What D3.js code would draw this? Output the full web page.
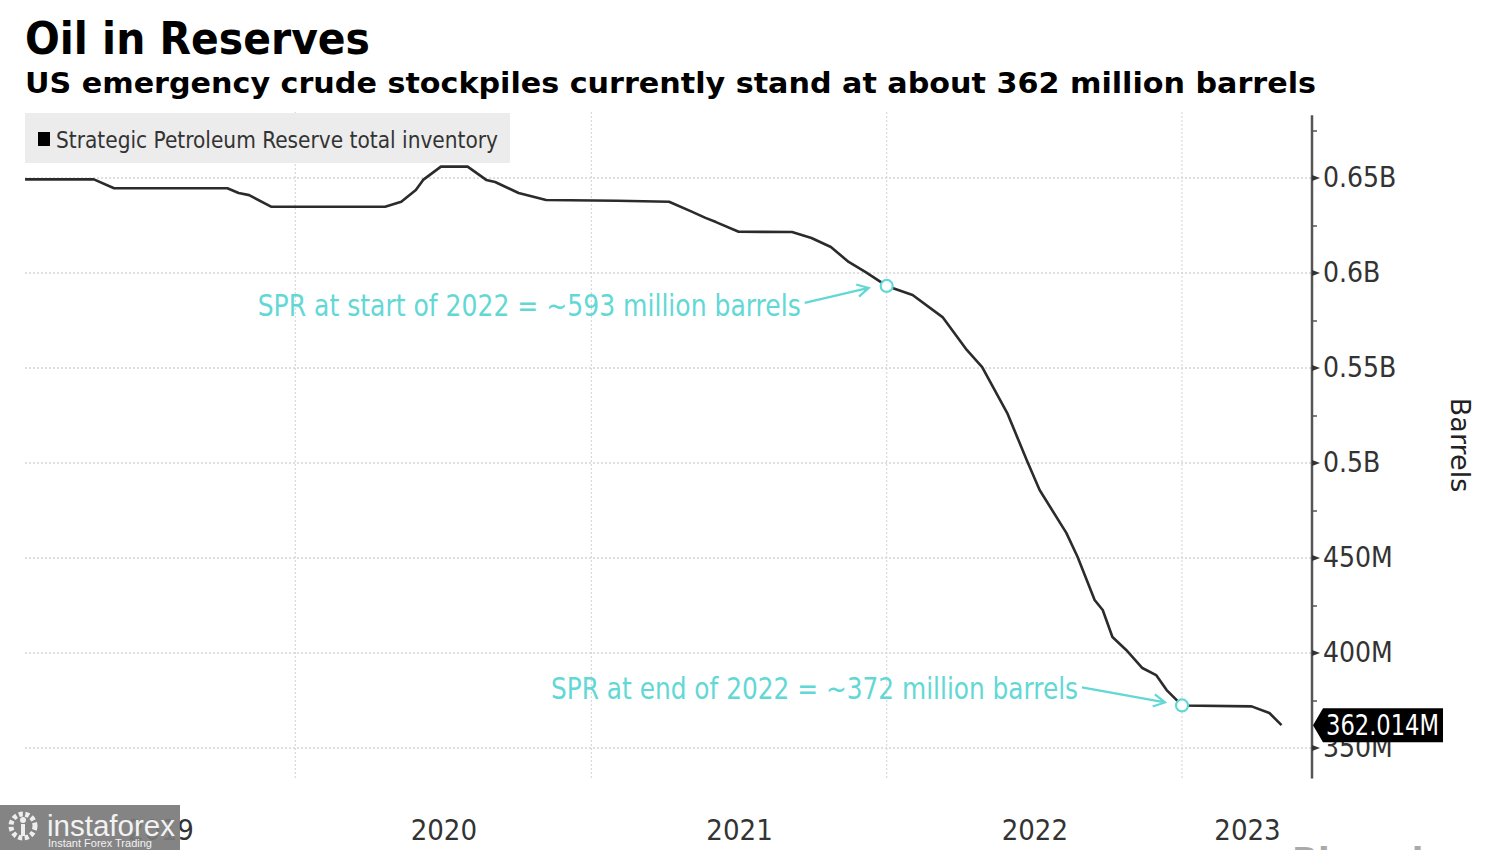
<!DOCTYPE html>
<html><head><meta charset="utf-8">
<script src="https://cdn.jsdelivr.net/npm/d3@7"></script>
<style>body{margin:0;background:#fff}svg{display:block}</style>
</head><body><svg id="c" width="1500" height="850"></svg>
<script>
// ---- data ----
const dates = ["2019-02-01","2019-04-27","2019-05-22","2019-10-09","2019-10-23","2019-11-05","2019-12-02",
"2020-04-21","2020-05-11","2020-05-29","2020-06-07","2020-06-29","2020-08-01","2020-08-24","2020-09-04","2020-10-03","2020-11-06",
"2021-02-02","2021-04-07","2021-05-05","2021-05-22","2021-06-04","2021-07-02","2021-09-06","2021-09-30","2021-10-24","2021-11-15","2021-12-06",
"2022-01-01","2022-02-02","2022-03-11","2022-04-10","2022-04-29","2022-05-30","2022-06-23","2022-07-09","2022-08-11","2022-08-25","2022-09-15","2022-09-25","2022-10-07","2022-10-24","2022-11-13","2022-11-30","2022-12-13",
"2023-01-01","2023-03-28","2023-04-19","2023-05-04"];
const values = [649.3,649.3,644.6,644.6,642.1,641.0,634.9,
634.9,637.5,643.7,649.0,656.0,656.0,649.0,647.9,642.1,638.4,
638.0,637.5,632.3,629.0,626.8,621.7,621.6,618.4,613.7,605.8,600.5,
593.2,588.4,576.8,559.5,550.5,526.3,501.6,485.8,463.2,450.5,427.9,422.6,408.4,401.6,392.1,388.4,380.5,
372.4,371.9,368.4,362.0];
const yTicks = [350,400,450,500,550,600,650];
const yTickLabels = ["350M","400M","450M","0.5B","0.55B","0.6B","0.65B"];
const yearLabels = ["2019","2020","2021","2022","2023"];
const annDates = ["2022-01-01","2023-01-01"];
const annValues = [593.2,372.4];
const annTexts = ["SPR at start of 2022 = ~593 million barrels","SPR at end of 2022 = ~372 million barrels"];
const lastLabel = "362.014M";
const title = "Oil in Reserves";
const subtitle = "US emergency crude stockpiles currently stand at about 362 million barrels";
const legendLabel = "Strategic Petroleum Reserve total inventory";
const yAxisTitle = "Barrels";

// ---- setup ----
const svg = d3.select("#c");
const parse = d3.utcParse("%Y-%m-%d");
const data = dates.map((d,i)=>({date:parse(d), value:values[i]}));
const axisX = 1312;
const x = d3.scaleUtc().domain([Date.UTC(2019,0,1), Date.UTC(2023,0,1)]).range([0, 1182]);
const y = d3.scaleLinear().domain([350,650]).range([748,178]);
const plotLeft = x(data[0].date);
const cond = "'Liberation Sans Narrow','DejaVu Sans Condensed','Liberation Sans',sans-serif";
const cyan = "#62d8d6";

// titles
svg.append("text").attr("x",25).attr("y",54).attr("font-family","'DejaVu Sans',Verdana,sans-serif")
  .attr("font-weight","bold").attr("font-size",45).attr("fill","#000")
  .attr("textLength",345).attr("lengthAdjust","spacingAndGlyphs").text(title);
svg.append("text").attr("x",25).attr("y",93).attr("font-family","'DejaVu Sans',Verdana,sans-serif")
  .attr("font-weight","bold").attr("font-size",28).attr("fill","#000")
  .attr("textLength",1291).attr("lengthAdjust","spacingAndGlyphs").text(subtitle);

// gridlines
const years = [2020,2021,2022,2023].map(yy=>new Date(Date.UTC(yy,0,1)));
svg.append("g").selectAll("line").data(years).join("line")
  .attr("x1",d=>x(d)).attr("x2",d=>x(d)).attr("y1",112).attr("y2",778)
  .attr("stroke","#d9d9d9").attr("stroke-width",1.2).attr("stroke-dasharray","2,2");
svg.append("g").selectAll("line").data(yTicks).join("line")
  .attr("x1",plotLeft).attr("x2",axisX).attr("y1",d=>y(d)).attr("y2",d=>y(d))
  .attr("stroke","#d4d4d4").attr("stroke-width",1.3).attr("stroke-dasharray","2,2");

// legend
svg.append("rect").attr("x",25).attr("y",113).attr("width",485).attr("height",50).attr("fill","#ececec");
svg.append("rect").attr("x",38).attr("y",132).attr("width",12).attr("height",14).attr("fill","#000");
svg.append("text").attr("x",56).attr("y",148).attr("font-family",cond).attr("font-size",23).attr("fill","#333")
  .attr("textLength",442).attr("lengthAdjust","spacingAndGlyphs").text(legendLabel);

// line
const line = d3.line().x(d=>x(d.date)).y(d=>y(d.value));
svg.append("path").datum(data).attr("d",line).attr("fill","none")
  .attr("stroke","#2b2b2b").attr("stroke-width",2.6).attr("stroke-linejoin","round");

// y axis
const yAxis = d3.axisRight(y).tickValues(yTicks).tickFormat((d,i)=>yTickLabels[i]).tickSize(0).tickPadding(11);
const gy = svg.append("g").attr("transform",`translate(${axisX},0)`).call(yAxis);
gy.select(".domain").remove();
gy.selectAll("text").attr("font-family",cond).attr("font-size",28).attr("fill","#333");
const minor = d3.range(375,700,50);
svg.append("g").attr("transform",`translate(${axisX},0)`)
  .call(d3.axisRight(y).tickValues(minor).tickSize(5).tickFormat(""))
  .call(g=>{g.select(".domain").remove(); g.selectAll("line").attr("stroke","#555").attr("stroke-width",1.5);});
svg.append("line").attr("x1",axisX).attr("x2",axisX).attr("y1",y(683)).attr("y2",y(334))
  .attr("stroke","#555").attr("stroke-width",2.5);
svg.append("g").selectAll("path").data(yTicks).join("path")
  .attr("d",d=>`M${axisX},${y(d)-3}L${axisX+8},${y(d)}L${axisX},${y(d)+3}Z`).attr("fill","#333");

// y axis title
svg.append("text").attr("transform","translate(1451,445) rotate(90)").attr("text-anchor","middle")
  .attr("font-family","'DejaVu Sans',sans-serif").attr("font-size",27).attr("fill","#222").text(yAxisTitle);

// x axis labels centered in visible year spans
const bounds = [plotLeft, ...years.map(d=>x(d)), axisX];
const centers = yearLabels.map((l,i)=>x.invert((bounds[i]+bounds[i+1])/2));
const xAxis = d3.axisBottom(x).tickValues(centers).tickFormat((d,i)=>yearLabels[i]).tickSize(0).tickPadding(0);
const gx = svg.append("g").attr("transform","translate(0,812)").call(xAxis);
gx.select(".domain").remove();
gx.selectAll("text").attr("font-family",cond).attr("font-size",29).attr("fill","#333").attr("dy","0.95em");

// last value label
const last = data[data.length-1];
const ly = y(last.value);
svg.append("path").attr("d",`M${axisX+1},${ly}L${axisX+11},${ly-17}L${axisX+131},${ly-17}L${axisX+131},${ly+17}L${axisX+11},${ly+17}Z`)
  .attr("fill","#000");
svg.append("text").attr("x",axisX+14).attr("y",ly+10).attr("font-family",cond).attr("font-size",29)
  .attr("fill","#fff").attr("textLength",113).attr("lengthAdjust","spacingAndGlyphs").text(lastLabel);

// annotations
const arrowOff = [[[-82,17],[-18,2]],[[-100,-18],[-17,-3]]];
const textOff = [[-86,30],[-104,-6]];
const textW = [543,527];
annDates.forEach((d,i)=>{
  const cx = x(parse(d)), cy = y(annValues[i]);
  const [s,e] = arrowOff[i];
  const sx=cx+s[0], sy=cy+s[1], ex=cx+e[0], ey=cy+e[1];
  const ang = Math.atan2(ey-sy, ex-sx), L=13, a=0.5;
  svg.append("path").attr("d",`M${sx},${sy}L${ex},${ey}M${ex-L*Math.cos(ang-a)},${ey-L*Math.sin(ang-a)}L${ex},${ey}L${ex-L*Math.cos(ang+a)},${ey-L*Math.sin(ang+a)}`)
    .attr("fill","none").attr("stroke",cyan).attr("stroke-width",2.2);
  svg.append("circle").attr("cx",cx).attr("cy",cy).attr("r",6).attr("fill","#fff").attr("stroke",cyan).attr("stroke-width",2.2);
  svg.append("text").attr("x",cx+textOff[i][0]).attr("y",cy+textOff[i][1]).attr("text-anchor","end")
    .attr("font-family",cond).attr("font-size",30).attr("fill",cyan)
    .attr("textLength",textW[i]).attr("lengthAdjust","spacingAndGlyphs").text(annTexts[i]);
});

// watermark
const wm = svg.append("g");
wm.append("rect").attr("x",0).attr("y",805).attr("width",180).attr("height",45).attr("fill","#7a7a7a").attr("opacity",0.92);
wm.append("circle").attr("cx",23).attr("cy",826).attr("r",12).attr("fill","none").attr("stroke","#eee").attr("stroke-width",5).attr("stroke-dasharray","4,2.5");
wm.append("circle").attr("cx",23).attr("cy",820).attr("r",3).attr("fill","#eee");
wm.append("rect").attr("x",21).attr("y",824).attr("width",4).attr("height",12).attr("fill","#eee");
wm.append("text").attr("x",47).attr("y",836).attr("font-family","'Liberation Sans',sans-serif").attr("font-size",30)
  .attr("fill","#f2f2f2").attr("textLength",128).attr("lengthAdjust","spacingAndGlyphs").text("instaforex");
wm.append("text").attr("x",48).attr("y",847).attr("font-family","'Liberation Sans',sans-serif").attr("font-size",11)
  .attr("fill","#f2f2f2").text("Instant Forex Trading");
// source mark, cut off at the bottom
svg.append("text").attr("x",1292).attr("y",872).attr("font-family","'DejaVu Sans',sans-serif").attr("font-weight","bold")
  .attr("font-size",34).attr("fill","#aaa").text("Bloomberg");
</script></body></html>
